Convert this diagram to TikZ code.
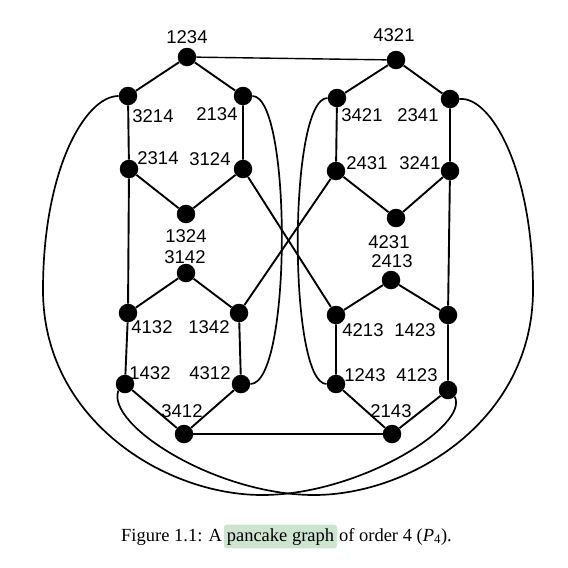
\documentclass[tikz,border=0pt]{standalone}
\usepackage{fontspec}
\setmainfont{Liberation Serif}
\newfontfamily\arialfont{Liberation Sans}
\usepackage{tikz}
\usetikzlibrary{positioning}
\definecolor{hlgreen}{RGB}{205,228,206}

\begin{document}
\begin{tikzpicture}[
        x=1pt, y=-1pt,
        vertex/.style={circle, fill=black, inner sep=0pt, minimum size=18.5pt},
        lbl/.style={font=\arialfont\fontsize{18.5}{21}\selectfont, inner sep=0pt},
        capt/.style={font=\fontsize{18.5}{22}\selectfont, inner sep=0pt},
        line/.style={draw, line width=1.9pt},
        link/.style={draw, line width=1.4pt},
        curve/.style={draw, line width=1.7pt}
    ]
    \useasboundingbox (0,0) rectangle (568,568);

    % Nodes, left half
    \node [vertex] (n1234) at (187,57) {};
    \node [vertex] (n3214) at (128,96) {};
    \node [vertex] (n2134) at (243,96) {};
    \node [vertex] (n2314) at (129,169) {};
    \node [vertex] (n3124) at (243,169) {};
    \node [vertex] (n1324) at (186,214) {};
    \node [vertex] (n3142) at (186,273) {};
    \node [vertex] (n4132) at (128,313) {};
    \node [vertex] (n1342) at (239,313) {};
    \node [vertex] (n1432) at (125,384) {};
    \node [vertex] (n4312) at (241,384) {};
    \node [vertex] (n3412) at (184,434) {};

    % Nodes, right half
    \node [vertex] (n4321) at (396,60) {};
    \node [vertex] (n3421) at (337,98) {};
    \node [vertex] (n2341) at (450,99) {};
    \node [vertex] (n2431) at (336,171) {};
    \node [vertex] (n3241) at (450,171) {};
    \node [vertex] (n4231) at (396,218) {};
    \node [vertex] (n2413) at (391,280) {};
    \node [vertex] (n4213) at (336,315) {};
    \node [vertex] (n1423) at (448,315) {};
    \node [vertex] (n1243) at (336,384) {};
    \node [vertex] (n4123) at (448,390) {};
    \node [vertex] (n2143) at (392,434) {};

    % Labels
    \node [lbl] (t1234) at (187,37) {1234};
    \node [lbl] (t3214) at (153,116) {3214};
    \node [lbl] (t2134) at (217,114) {2134};
    \node [lbl] (t2314) at (158,158) {2314};
    \node [lbl] (t3124) at (210,159) {3124};
    \node [lbl] (t1324) at (186,236) {1324};
    \node [lbl] (t3142) at (185,257) {3142};
    \node [lbl] (t4132) at (152,327) {4132};
    \node [lbl] (t1342) at (209,327) {1342};
    \node [lbl] (t1432) at (150,373) {1432};
    \node [lbl] (t4312) at (210,373) {4312};
    \node [lbl] (t3412) at (182,411) {3412};
    \node [lbl] (t4321) at (394,35) {4321};
    \node [lbl] (t3421) at (362,115) {3421};
    \node [lbl] (t2341) at (418,115) {2341};
    \node [lbl] (t2431) at (367,163) {2431};
    \node [lbl] (t3241) at (420,163) {3241};
    \node [lbl] (t4231) at (389,242) {4231};
    \node [lbl] (t2413) at (392,261) {2413};
    \node [lbl] (t4213) at (363,330) {4213};
    \node [lbl] (t1423) at (415,330) {1423};
    \node [lbl] (t1243) at (365,375) {1243};
    \node [lbl] (t4123) at (417,375) {4123};
    \node [lbl] (t2143) at (391,411) {2143};

    % Paths, hexagons
    \path [line] (n1234) -- (n3214) -- (n2314) -- (n1324) -- (n3124) -- (n2134) -- (n1234);
    \path [line] (n3142) -- (n4132) -- (n1432) -- (n3412) -- (n4312) -- (n1342) -- (n3142);
    \path [line] (n2314) -- (n4132);
    \path [line] (n4321) -- (n3421) -- (n2431) -- (n4231) -- (n3241) -- (n2341) -- (n4321);
    \path [line] (n2413) -- (n4213) -- (n1243) -- (n2143) -- (n4123) -- (n1423) -- (n2413);
    \path [line] (n3241) -- (n1423);

    % Crossing edges between the halves
    \path [line] (n3124) -- (n4213);
    \path [line] (n1342) -- (n2431);
    \path [link] (n1234) -- (n4321);
    \path [link] (n3412) -- (n2143);

    % Curved edges
    \path [curve] (n2134.east) .. controls (292,96) and (292,384) .. (n4312.east);
    \path [curve] (n3421.west) .. controls (288,98) and (288,384) .. (n1243.west);
    \path [curve] (n3214.west) .. controls (85,96) and (43,170) .. (43,290)
        .. controls (43,420) and (165,495) .. (262,495)
        .. controls (360,495) and (470,425) .. (n4123.south east);
    \path [curve] (n2341.east) .. controls (491,96) and (533,170) .. (533,290)
        .. controls (533,420) and (411,495) .. (314,495)
        .. controls (216,495) and (106,425) .. (n1432.south west);

    % Caption
    \node [capt, anchor=base west] (figlbl) at (121,541) {Figure 1.1: A};
    \node [capt, base right=1.5pt of figlbl, fill=hlgreen, rounded corners=3pt,
        inner xsep=3pt, inner ysep=3.5pt] (hlight) {pancake graph};
    \node [capt, base right=1.5pt of hlight] (rest) {of order 4 (\textit{P}\textsubscript{4}).};
\end{tikzpicture}
\end{document}
